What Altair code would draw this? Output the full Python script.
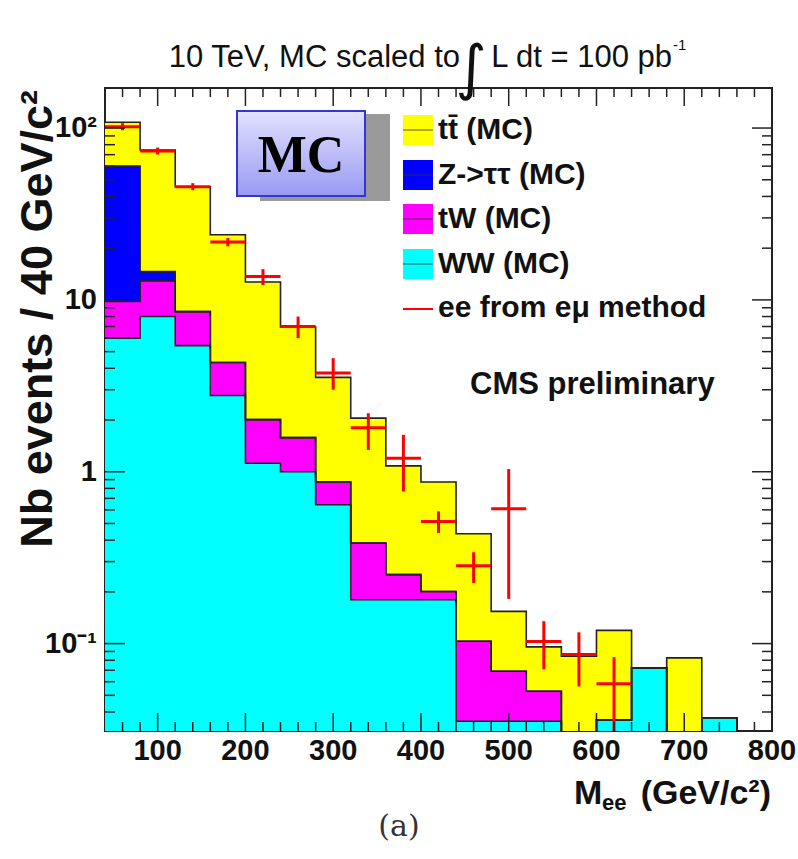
import altair as alt
import pandas as pd

# ---------------- data ----------------
bin_lo = [40, 80, 120, 160, 200, 240, 280, 320, 360, 400, 440, 480, 520, 560, 600, 640, 680, 720, 760]
bin_w = 40
ww = [5.99, 8.0, 5.42, 2.78, 1.12, 1.0, 0.643, 0.18, 0.18, 0.18, 0.0353, 0.0353, 0.0353, 0, 0.036, 0.0722, 0, 0.037, 0]
tw = [3.79, 4.9, 3.13, 1.54, 0.89, 0.58, 0.228, 0.205, 0.072, 0.021, 0.0678, 0.0337, 0.0175, 0, 0, 0, 0, 0, 0]
ztt = [50.3, 1.7, 0, 0, 0, 0, 0, 0, 0, 0, 0, 0, 0, 0, 0, 0, 0, 0, 0]
ttbar = [47.9, 59.9, 37.0, 19.6, 10.7, 5.36, 2.67, 1.665, 0.83, 0.67, 0.333, 0.085, 0.0429, 0.0844, 0.0833, 0, 0.0826, 0, 0]

pts_x = [60, 100, 140, 180, 220, 260, 300, 340, 380, 420, 460, 500, 540, 580, 620]
pts_y = [101.8, 73.5, 45.6, 21.7, 13.7, 7.0, 3.75, 1.80, 1.20, 0.514, 0.284, 0.609, 0.103, 0.0863, 0.0583]
pts_lo = [97.1, 70.1, 43.5, 20.5, 12.2, 5.99, 3.0, 1.34, 0.768, 0.44, 0.2254, 0.182, 0.0708, 0.0564, 0.02]
pts_hi = [106.7, 77.0, 47.8, 22.9, 15.1, 8.0, 4.58, 2.19, 1.64, 0.588, 0.34, 1.036, 0.135, 0.1163, 0.0833]

x_major = [100, 200, 300, 400, 500, 600, 700, 800]
x_labels = ["100", "200", "300", "400", "500", "600", "700", "800"]
x_minor = [v for v in range(60, 800, 20) if v % 100 != 0]
y_major = [0.1, 1, 10, 100]
y_labels = ["10⁻¹", "1", "10", "10²"]
y_minor = [m * d for d in (0.01, 0.1, 1, 10) for m in range(2, 10) if 0.031 < m * d < 171]

XMIN, XMAX = 40, 800
YMIN, YMAX = 0.031, 171
FLOOR = 1e-3
W, H = 667, 643

FONT = "Liberation Sans"
xs = alt.Scale(domain=[XMIN, XMAX], nice=False, zero=False)
ys = alt.Scale(type="log", domain=[YMIN, YMAX], nice=False)

# cumulative stacks (drawn back to front, as ROOT THStack)
cum_ww = list(ww)
cum_tw = [a + b for a, b in zip(cum_ww, tw)]
cum_z = [a + b for a, b in zip(cum_tw, ztt)]
cum_tot = [a + b for a, b in zip(cum_z, ttbar)]


def step_df(vals):
    v = [x if x > 0 else FLOOR for x in vals]
    return pd.DataFrame({"x": bin_lo + [XMAX], "y": v + [v[-1]], "base": [FLOOR] * (len(v) + 1)})


def X(f):
    return alt.X(f, scale=xs, axis=None)


def Y(f):
    return alt.Y(f, scale=ys, axis=None)


layers = []
for vals, col in [(cum_tot, "#ffff00"), (cum_z, "#0000ff"), (cum_tw, "#ff00ff"), (cum_ww, "#00ffff")]:
    layers.append(alt.Chart(step_df(vals)).mark_area(interpolate="step-after", color=col, clip=True)
                  .encode(x=X("x:Q"), y=Y("y:Q"), y2="base:Q"))

for vals in [cum_tot, cum_z, cum_tw, cum_ww]:
    layers.append(alt.Chart(step_df(vals)).mark_line(interpolate="step-after", color="#222", strokeWidth=1.6, clip=True)
                  .encode(x=X("x:Q"), y=Y("y:Q")))

# data points (ee from e-mu method)
pdf = pd.DataFrame({"x": pts_x, "y": pts_y, "lo": pts_lo, "hi": pts_hi,
                    "xl": [v - bin_w / 2 for v in pts_x], "xh": [v + bin_w / 2 for v in pts_x]})
layers.append(alt.Chart(pdf).mark_rule(color="#ff0000", strokeWidth=3, clip=True).encode(
    x=X("xl:Q"), x2="xh:Q", y=Y("y:Q")))
layers.append(alt.Chart(pdf).mark_rule(color="#ff0000", strokeWidth=3, clip=True).encode(
    x=X("x:Q"), y=Y("lo:Q"), y2="hi:Q"))

# inward ticks on all four sides
TK = "#222"
for vals, ln in [(x_major, 18), (x_minor, 9)]:
    d = pd.DataFrame({"v": vals})
    layers.append(alt.Chart(d).mark_rule(color=TK, strokeWidth=1.5).encode(
        x=X("v:Q"), y=alt.value(H), y2=alt.value(H - ln)))
    layers.append(alt.Chart(d).mark_rule(color=TK, strokeWidth=1.5).encode(
        x=X("v:Q"), y=alt.value(0), y2=alt.value(ln)))
for vals, ln in [(y_major, 20), (y_minor, 10)]:
    d = pd.DataFrame({"v": vals})
    layers.append(alt.Chart(d).mark_rule(color=TK, strokeWidth=1.5).encode(
        y=Y("v:Q"), x=alt.value(0), x2=alt.value(ln)))
    layers.append(alt.Chart(d).mark_rule(color=TK, strokeWidth=1.5).encode(
        y=Y("v:Q"), x=alt.value(W - ln), x2=alt.value(W)))

# tick labels (through the scales)
layers.append(alt.Chart(pd.DataFrame({"v": x_major, "t": x_labels})).mark_text(
    fontSize=29, fontWeight="bold", font=FONT, color="#111", align="center", baseline="middle").encode(
    x=X("v:Q"), y=alt.value(H + 20), text="t:N"))
layers.append(alt.Chart(pd.DataFrame({"v": y_major, "t": y_labels})).mark_text(
    fontSize=29, fontWeight="bold", font=FONT, color="#111", align="right", baseline="middle").encode(
    y=Y("v:Q"), x=alt.value(-8), text="t:N"))

one = pd.DataFrame({"a": [0]})


def txt(s, x, y, size, weight="bold", align="left", baseline="middle", font=FONT, angle=0, color="#111"):
    kw = dict(text=s, fontSize=size, fontWeight=weight, align=align, baseline=baseline, font=font, color=color)
    if angle:
        kw["angle"] = angle
    return alt.Chart(one).mark_text(**kw).encode(x=alt.value(x), y=alt.value(y))


def box(x1, x2, y1, y2, **kw):
    return alt.Chart(one).mark_rect(**kw).encode(x=alt.value(x1), x2=alt.value(x2), y=alt.value(y1), y2=alt.value(y2))


# MC label box with shadow
layers.append(box(155, 285, 26, 113, color="#9a9a9a"))
layers.append(box(132, 260, 23, 108,
                  color=alt.Gradient(gradient="linear",
                                     stops=[alt.GradientStop(color="#e2e2ff", offset=0),
                                            alt.GradientStop(color="#9999f3", offset=1)],
                                     x1=0, x2=0, y1=0, y2=1),
                  stroke="#3535cf", strokeWidth=2))
layers.append(txt("MC", 196, 68, 52, font="Liberation Serif", align="center", color="#000"))

# legend
leg = [("tt\u0304 (MC)", "#ffff00", 27, 42), ("Z->ττ (MC)", "#0000ff", 72, 87),
       ("tW (MC)", "#ff00ff", 116, 131), ("WW (MC)", "#00ffff", 161, 176)]
for lab, col, y0, yc in leg:
    layers.append(box(298, 328, y0, y0 + 30, color=col))
    layers.append(alt.Chart(one).mark_rule(color="#333", strokeWidth=1.2, opacity=0.7).encode(
        x=alt.value(298), x2=alt.value(328), y=alt.value(y0 + 15)))
    layers.append(txt(lab, 333, yc, 30))
layers.append(alt.Chart(one).mark_rule(color="#ff0000", strokeWidth=2).encode(
    x=alt.value(298), x2=alt.value(328), y=alt.value(221)))
layers.append(txt("ee from eμ method", 333, 220, 30))

layers.append(txt("CMS preliminary", 365, 297, 31))

# title
layers.append(txt("10 TeV, MC scaled to", 355, -21, 31, weight="normal", align="right", baseline="alphabetic"))
layers.append(txt("∫", 366, -18, 60, weight="normal", align="center", font="DejaVu Sans"))
layers.append(txt("L dt = 100 pb", 567, -21, 31, weight="normal", align="right", baseline="alphabetic"))
layers.append(txt("-1", 568, -43, 15, weight="normal", align="left", baseline="middle"))

# axis titles
layers.append(txt("Nb events / 40 GeV/c²", -67, 2, 45, align="right", angle=270))
layers.append(txt("M", 469, 716, 34, baseline="alphabetic"))
layers.append(txt("ee", 497, 722, 22, baseline="alphabetic"))
layers.append(txt("(GeV/c²)", 666, 716, 34, align="right", baseline="alphabetic"))

layers.append(txt("(a)", 294, 748, 30, weight="normal", align="center", baseline="alphabetic",
                  font="DejaVu Serif", color="#333"))

chart = alt.layer(*layers).properties(
    width=W, height=H,
    padding={"left": 105, "top": 88, "right": 26, "bottom": 128},
    autosize=alt.AutoSizeParams(type="none"),
    background="white",
).configure_view(stroke="#222", strokeWidth=2)

chart.save("out.html", embed_options={"renderer": "svg", "actions": False})
